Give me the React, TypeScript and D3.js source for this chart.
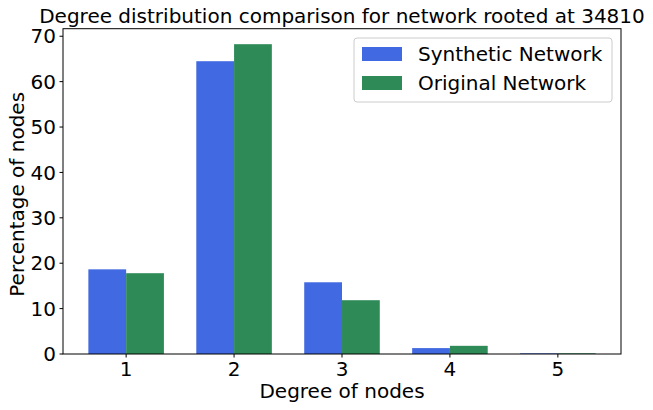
import React from 'react';
import * as d3 from 'd3';

const degrees = [1, 2, 3, 4, 5];
const synthetic = [18.65, 64.5, 15.8, 1.3, 0.15];
const original = [17.8, 68.25, 11.85, 1.8, 0.15];
const yTicks = [0, 10, 20, 30, 40, 50, 60, 70];

const W = 653;
const H = 410;
const margin = { left: 63, right: 32, top: 28.7, bottom: 56 };
const FONT = '"DejaVu Sans", sans-serif';
const BLUE = '#4169e1';
const GREEN = '#2e8b57';
const barW = 0.35;

export default function App() {
  const x = d3
    .scaleLinear()
    .domain([0.65 - 0.235, 5.35 + 0.235])
    .range([margin.left, W - margin.right]);
  const y = d3
    .scaleLinear()
    .domain([0, d3.max(original)! * 1.05])
    .range([H - margin.bottom, margin.top]);

  const x0 = margin.left;
  const x1 = W - margin.right;
  const y0 = H - margin.bottom;
  const y1 = margin.top;

  return (
    <div style={{ position: 'absolute', left: 0, top: 0 }}>
      <svg width={W} height={H} style={{ display: 'block', fontFamily: FONT }}>
        <rect width={W} height={H} fill="#fff" />
        <text x={(x0 + x1) / 2} y={23} fontSize={20} textAnchor="middle" fill="#000">
          Degree distribution comparison for network rooted at 34810
        </text>

        {degrees.map((d, i) => (
          <g key={d}>
            <rect
              x={x(d - barW)}
              y={y(synthetic[i])}
              width={x(d) - x(d - barW)}
              height={y(0) - y(synthetic[i])}
              fill={BLUE}
            />
            <rect
              x={x(d)}
              y={y(original[i])}
              width={x(d + barW) - x(d)}
              height={y(0) - y(original[i])}
              fill={GREEN}
            />
          </g>
        ))}

        <rect x={x0} y={y1} width={x1 - x0} height={y0 - y1} fill="none" stroke="#000" strokeWidth={1} />

        {yTicks.map(t => (
          <g key={t}>
            <line x1={x0 - 3.5} x2={x0} y1={y(t)} y2={y(t)} stroke="#000" />
            <text x={x0 - 7} y={y(t)} dy="0.36em" fontSize={20} textAnchor="end" fill="#000">
              {t}
            </text>
          </g>
        ))}
        {degrees.map(d => (
          <g key={d}>
            <line x1={x(d)} x2={x(d)} y1={y0} y2={y0 + 3.5} stroke="#000" />
            <text x={x(d)} y={376} fontSize={20} textAnchor="middle" fill="#000">
              {d}
            </text>
          </g>
        ))}

        <text x={(x0 + x1) / 2} y={398} fontSize={20} textAnchor="middle" fill="#000">
          Degree of nodes
        </text>
        <text
          transform={`translate(24, ${(y0 + y1) / 2 + 3}) rotate(-90)`}
          fontSize={20}
          textAnchor="middle"
          fill="#000"
        >
          Percentage of nodes
        </text>

        <g>
          <rect x={354} y={38} width={258} height={64} rx={3} fill="#fff" fillOpacity={0.8} stroke="#cccccc" />
          <rect x={362} y={47} width={40} height={14} fill={BLUE} />
          <text x={418} y={61} fontSize={20} fill="#000">Synthetic Network</text>
          <rect x={362} y={76} width={40} height={14} fill={GREEN} />
          <text x={418} y={90} fontSize={20} fill="#000">Original Network</text>
        </g>
      </svg>
    </div>
  );
}
